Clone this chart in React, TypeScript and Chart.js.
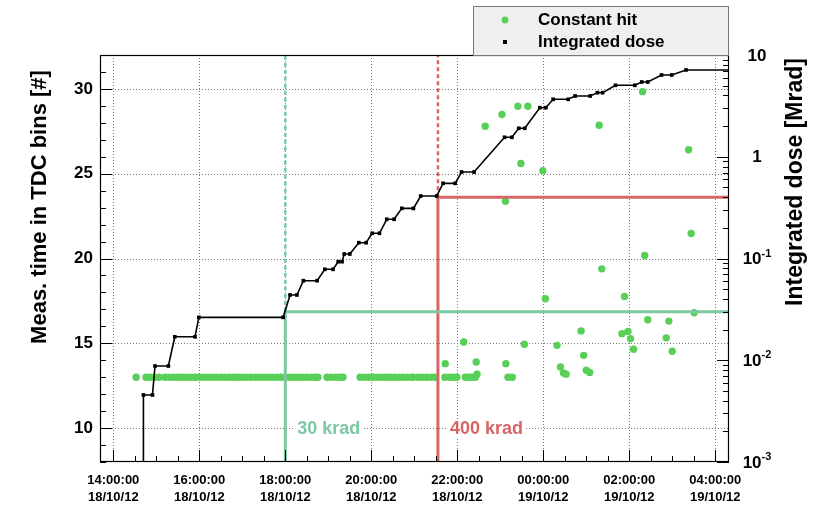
import React, { useEffect, useRef } from "react";
import { Chart, registerables } from "chart.js";

Chart.register(...registerables);

// x values: hours since 18/10/12 00:00
const X_MIN = 13.69;
const X_MAX = 28.32;
const X_TICKS = [14, 16, 18, 20, 22, 24, 26, 28];
const X_TICK_TIME = ["14:00:00", "16:00:00", "18:00:00", "20:00:00", "22:00:00", "00:00:00", "02:00:00", "04:00:00"];
const X_TICK_DATE = ["18/10/12", "18/10/12", "18/10/12", "18/10/12", "18/10/12", "19/10/12", "19/10/12", "19/10/12"];

const Y_LEFT_MIN = 8;
const Y_LEFT_MAX = 32;
const Y_LEFT_TICKS = [10, 15, 20, 25, 30];

const Y_RIGHT_MIN = 0.001;
const Y_RIGHT_MAX = 10;
const Y_RIGHT_TICKS = [0.001, 0.01, 0.1, 1, 10];
const Y_RIGHT_BASE = ["10", "10", "10", "1", "10"];
const Y_RIGHT_SUP = ["-3", "-2", "-1", "", ""];

const LEFT_TITLE = "Meas. time in TDC bins [#]";
const RIGHT_TITLE = "Integrated dose [Mrad]";

// Integrated dose [Mrad]
const DOSE_TIME = [
  14.70, 14.70, 14.91, 14.97, 15.28, 15.43, 15.90, 15.99, 17.95, 18.11, 18.27, 18.42, 18.74,
  18.92, 19.11, 19.23, 19.32, 19.37, 19.50, 19.71, 19.88, 20.02, 20.19, 20.36, 20.53, 20.71,
  20.98, 21.15, 21.52, 21.67, 21.95, 22.10, 22.39, 23.10, 23.27, 23.43, 23.57, 23.92, 24.06,
  24.23, 24.58, 24.74, 25.09, 25.26, 25.38, 25.68, 26.13, 26.29, 26.43, 26.75, 26.99, 27.32, 28.6,
];
const DOSE_VALUE = [
  0.0001, 0.00456, 0.00456, 0.00878, 0.00878, 0.0170, 0.0170, 0.0264, 0.0264, 0.0438, 0.0438, 0.0605, 0.0605,
  0.0783, 0.0783, 0.0930, 0.0930, 0.1107, 0.1107, 0.143, 0.143, 0.177, 0.177, 0.243, 0.243, 0.311,
  0.311, 0.411, 0.411, 0.548, 0.548, 0.708, 0.708, 1.553, 1.553, 1.904, 1.904, 3.035, 3.035,
  3.669, 3.669, 3.955, 3.955, 4.262, 4.262, 5.038, 5.038, 5.428, 5.428, 6.36, 6.36, 7.123, 7.123,
];

// Constant hit [TDC bins]
const HIT_TIME = [
  14.53, 14.76, 14.86, 14.96, 15.06,
  15.20, 15.30, 15.40, 15.50, 15.60, 15.70, 15.80, 15.90, 16.00, 16.10, 16.20, 16.30, 16.40,
  16.50, 16.60, 16.70, 16.80, 16.90, 17.00, 17.10, 17.20, 17.30, 17.40, 17.50, 17.60, 17.70,
  17.80, 17.90, 18.00, 18.10, 18.20, 18.30, 18.40, 18.50, 18.60, 18.70, 18.76,
  18.97, 19.07, 19.17, 19.27, 19.34,
  19.74, 19.84, 19.94, 20.04, 20.14, 20.24, 20.34, 20.44, 20.54, 20.64, 20.74, 20.84, 20.94, 20.97,
  21.09, 21.19, 21.29, 21.39, 21.48,
  21.71, 21.81, 21.91, 21.99,
  22.19, 22.27, 22.35, 22.42,
  23.18, 23.28,
  21.72, 22.15, 22.44, 22.46, 23.13, 23.56, 24.05, 24.32, 24.40, 24.47, 24.53, 24.88, 24.94,
  25.00, 25.08, 25.36, 25.83, 25.89, 25.97, 26.03, 26.10, 26.36, 26.43, 26.86, 26.92, 27.00,
  27.51, 22.65, 23.04, 23.41, 23.64, 23.48, 23.99, 23.12, 25.30, 26.31, 27.38, 27.44,
];
const HIT_VALUE = [
  13, 13, 13, 13, 13,
  13, 13, 13, 13, 13, 13, 13, 13, 13, 13, 13, 13, 13,
  13, 13, 13, 13, 13, 13, 13, 13, 13, 13, 13, 13, 13,
  13, 13, 13, 13, 13, 13, 13, 13, 13, 13, 13,
  13, 13, 13, 13, 13,
  13, 13, 13, 13, 13, 13, 13, 13, 13, 13, 13, 13, 13, 13,
  13, 13, 13, 13, 13,
  13, 13, 13, 13,
  13, 13, 13, 13,
  13, 13,
  13.8, 15.08, 13.9, 13.18, 13.8, 14.94, 17.63, 14.88, 13.6, 13.25, 13.18, 15.73, 14.29,
  13.41, 13.28, 19.39, 15.57, 17.76, 15.7, 15.27, 14.65, 20.18, 16.39, 15.32, 16.31, 14.53,
  16.8, 27.8, 28.49, 28.98, 28.98, 25.6, 25.18, 23.37, 27.86, 29.84, 26.41, 21.47,
];

// Dose thresholds
const REF_LABELS = ["30 krad", "400 krad"];
const REF_TIME = [18.0, 21.55];
const REF_DOSE = [0.03, 0.4];
const REF_COLORS = ["rgb(125,200,160)", "rgb(214,102,102)"];
const REF_TEXT_LEVEL = 10;

const FONT = "'Liberation Sans', Arial, Helvetica, sans-serif";
const HIT_COLOR = "rgb(88,208,88)";
const GRID_COLOR = "#7a7a7a";

function refDatasets() {
  const out: any[] = [];
  REF_TIME.forEach((t, i) => {
    out.push({
      type: "line",
      label: REF_LABELS[i] + " solid",
      yAxisID: "y2",
      data: [
        { x: t, y: 0.00001 },
        { x: t, y: REF_DOSE[i] },
        { x: 40, y: REF_DOSE[i] },
      ],
      borderColor: REF_COLORS[i],
      borderWidth: 3,
      pointRadius: 0,
      clip: 0,
    });
    out.push({
      type: "line",
      label: REF_LABELS[i] + " dashed",
      yAxisID: "y2",
      data: [
        { x: t, y: REF_DOSE[i] },
        { x: t, y: 1000 },
      ],
      borderColor: REF_COLORS[i],
      borderWidth: 2.5,
      borderDash: [4, 3],
      pointRadius: 0,
      clip: 0,
    });
  });
  return out;
}

const gridPlugin = {
  id: "dottedGrid",
  beforeDatasetsDraw(chart: any) {
    const { ctx, chartArea: a, scales } = chart;
    ctx.save();
    ctx.strokeStyle = GRID_COLOR;
    ctx.lineWidth = 1;
    ctx.setLineDash([1, 2]);
    ctx.beginPath();
    X_TICKS.forEach((v) => {
      const px = Math.round(scales.x.getPixelForValue(v)) + 0.5;
      ctx.moveTo(px, a.top);
      ctx.lineTo(px, a.bottom);
    });
    Y_LEFT_TICKS.forEach((v) => {
      const py = Math.round(scales.y.getPixelForValue(v)) + 0.5;
      ctx.moveTo(a.left, py);
      ctx.lineTo(a.right, py);
    });
    ctx.stroke();
    ctx.restore();
  },
};

const decorPlugin = {
  id: "decor",
  afterDraw(chart: any) {
    const { ctx, chartArea: a, scales } = chart;
    const xs = scales.x;
    const yl = scales.y;
    const yr = scales.y2;
    ctx.save();

    // reference texts
    ctx.font = `bold 18px ${FONT}`;
    ctx.textBaseline = "middle";
    ctx.textAlign = "left";
    REF_TIME.forEach((t, i) => {
      const px = xs.getPixelForValue(t) + 12;
      const py = yl.getPixelForValue(REF_TEXT_LEVEL);
      const w = ctx.measureText(REF_LABELS[i]).width;
      ctx.fillStyle = "#fff";
      ctx.fillRect(px - 3, py - 9, w + 6, 18);
      ctx.fillStyle = REF_COLORS[i];
      ctx.fillText(REF_LABELS[i], px, py + 1);
    });

    // frame
    ctx.strokeStyle = "#000";
    ctx.lineWidth = 1.2;
    ctx.strokeRect(a.left + 0.5, a.top + 0.5, a.right - a.left - 1, a.bottom - a.top - 1);

    // inward ticks
    ctx.lineWidth = 1;
    ctx.beginPath();
    for (let k = 0; k * 0.5 + 13.5 <= xs.max; k++) {
      const v = 13.5 + k * 0.5;
      if (v < xs.min) continue;
      const px = Math.round(xs.getPixelForValue(v)) + 0.5;
      const len = X_TICKS.includes(v) ? 12 : 6;
      ctx.moveTo(px, a.bottom);
      ctx.lineTo(px, a.bottom - len);
    }
    for (let v = Math.ceil(yl.min); v <= yl.max; v++) {
      const py = Math.round(yl.getPixelForValue(v)) + 0.5;
      const len = Y_LEFT_TICKS.includes(v) ? 12 : 6;
      ctx.moveTo(a.left, py);
      ctx.lineTo(a.left + len, py);
    }
    for (let d = -3; d <= 1; d++) {
      for (let m = 1; m <= 9; m++) {
        const v = m * Math.pow(10, d);
        if (v > yr.max * 1.0001) continue;
        const py = Math.round(yr.getPixelForValue(v)) + 0.5;
        const len = m === 1 ? 12 : 6;
        ctx.moveTo(a.right, py);
        ctx.lineTo(a.right - len, py);
      }
    }
    ctx.stroke();

    // right axis labels with superscripts
    ctx.fillStyle = "#000";
    Y_RIGHT_TICKS.forEach((v, i) => {
      const py = yr.getPixelForValue(v);
      ctx.font = `bold 17px ${FONT}`;
      const wb = ctx.measureText(Y_RIGHT_BASE[i]).width;
      ctx.font = `bold 11px ${FONT}`;
      const ws = Y_RIGHT_SUP[i] ? ctx.measureText(Y_RIGHT_SUP[i]).width : 0;
      const x0 = 757 - (wb + ws) / 2;
      ctx.textAlign = "left";
      ctx.textBaseline = "middle";
      ctx.font = `bold 17px ${FONT}`;
      ctx.fillText(Y_RIGHT_BASE[i], x0, py + 1);
      if (Y_RIGHT_SUP[i]) {
        ctx.font = `bold 11px ${FONT}`;
        ctx.fillText(Y_RIGHT_SUP[i], x0 + wb, py - 5);
      }
    });

    // axis titles
    ctx.textAlign = "center";
    ctx.textBaseline = "middle";
    ctx.font = `bold 22px ${FONT}`;
    ctx.save();
    ctx.translate(40, 207);
    ctx.rotate(-Math.PI / 2);
    ctx.fillText(LEFT_TITLE, 0, 0);
    ctx.restore();
    ctx.font = `bold 23px ${FONT}`;
    ctx.save();
    ctx.translate(796, 182);
    ctx.rotate(-Math.PI / 2);
    ctx.fillText(RIGHT_TITLE, 0, 0);
    ctx.restore();

    // legend
    const lx = 473, ly = 6, lw = a.right - 473, lh = a.top - 6;
    ctx.fillStyle = "#efefef";
    ctx.fillRect(lx, ly, lw, lh);
    ctx.strokeStyle = "#777";
    ctx.lineWidth = 1;
    ctx.strokeRect(lx + 0.5, ly + 0.5, lw - 1, lh);
    const ds = chart.data.datasets;
    const hitDs = ds.find((d: any) => d.id === "hit");
    const doseDs = ds.find((d: any) => d.id === "dose");
    ctx.fillStyle = HIT_COLOR;
    ctx.beginPath();
    ctx.arc(505, 20, 3.4, 0, Math.PI * 2);
    ctx.fill();
    ctx.fillStyle = "#000";
    ctx.fillRect(503, 40, 4, 4);
    ctx.font = `bold 17px ${FONT}`;
    ctx.textAlign = "left";
    ctx.textBaseline = "middle";
    ctx.fillText(hitDs.label, 538, 20);
    ctx.fillText(doseDs.label, 538, 42);

    ctx.restore();
  },
};

export default function App() {
  const ref = useRef<HTMLCanvasElement>(null);
  useEffect(() => {
    if (!ref.current) return;
    const chart = new Chart(ref.current, {
      type: "scatter",
      data: {
        datasets: [
          {
            id: "dose",
            type: "line",
            label: "Integrated dose",
            yAxisID: "y2",
            data: DOSE_TIME.map((t, i) => ({ x: t, y: DOSE_VALUE[i] })),
            borderColor: "#000",
            borderWidth: 1.6,
            pointStyle: "rect",
            pointRadius: 2.6,
            pointBackgroundColor: "#000",
            pointBorderColor: "#000",
            pointBorderWidth: 0,
            tension: 0,
            clip: 0,
          } as any,
          ...refDatasets(),
          {
            id: "hit",
            type: "scatter",
            label: "Constant hit",
            yAxisID: "y",
            data: HIT_TIME.map((t, i) => ({ x: t, y: HIT_VALUE[i] })),
            backgroundColor: HIT_COLOR,
            borderWidth: 0,
            pointRadius: 3.7,
          } as any,
        ],
      },
      options: {
        responsive: false,
        animation: false,
        layout: { padding: { top: 55, left: 0, right: 0, bottom: 0 } },
        plugins: { legend: { display: false }, tooltip: { enabled: false }, title: { display: false } },
        scales: {
          x: {
            type: "linear",
            min: X_MIN,
            max: X_MAX,
            afterBuildTicks: (s: any) => {
              s.ticks = X_TICKS.map((v) => ({ value: v }));
            },
            afterFit: (s: any) => {
              s.height = 45;
            },
            grid: { display: false, drawTicks: false, tickLength: 0 },
            border: { display: false },
            ticks: {
              autoSkip: false,
              maxRotation: 0,
              padding: 10,
              color: "#000",
              font: { family: FONT, weight: "bold", size: 13, lineHeight: 1.3 },
              callback: (v: any) => {
                const i = X_TICKS.indexOf(v);
                return i >= 0 ? [X_TICK_TIME[i], X_TICK_DATE[i]] : "";
              },
            },
          },
          y: {
            type: "linear",
            position: "left",
            min: Y_LEFT_MIN,
            max: Y_LEFT_MAX,
            afterBuildTicks: (s: any) => {
              s.ticks = Y_LEFT_TICKS.map((v) => ({ value: v }));
            },
            afterFit: (s: any) => {
              s.width = 100;
            },
            grid: { display: false, drawTicks: false, tickLength: 0 },
            border: { display: false },
            ticks: {
              padding: 7,
              color: "#000",
              font: { family: FONT, weight: "bold", size: 17 },
              callback: (v: any) => String(v),
            },
          },
          y2: {
            type: "logarithmic",
            position: "right",
            min: Y_RIGHT_MIN,
            max: Y_RIGHT_MAX,
            afterBuildTicks: (s: any) => {
              s.ticks = Y_RIGHT_TICKS.map((v) => ({ value: v }));
            },
            afterFit: (s: any) => {
              s.width = 84;
            },
            grid: { display: false, drawTicks: false },
            border: { display: false },
            ticks: { display: false },
          },
        },
      } as any,
      plugins: [gridPlugin, decorPlugin],
    });
    return () => chart.destroy();
  }, []);
  return (
    <div style={{ position: "absolute", left: 0, top: 0, width: 813, height: 507, background: "#fff" }}>
      <canvas ref={ref} width={813} height={507} style={{ display: "block" }} />
    </div>
  );
}
